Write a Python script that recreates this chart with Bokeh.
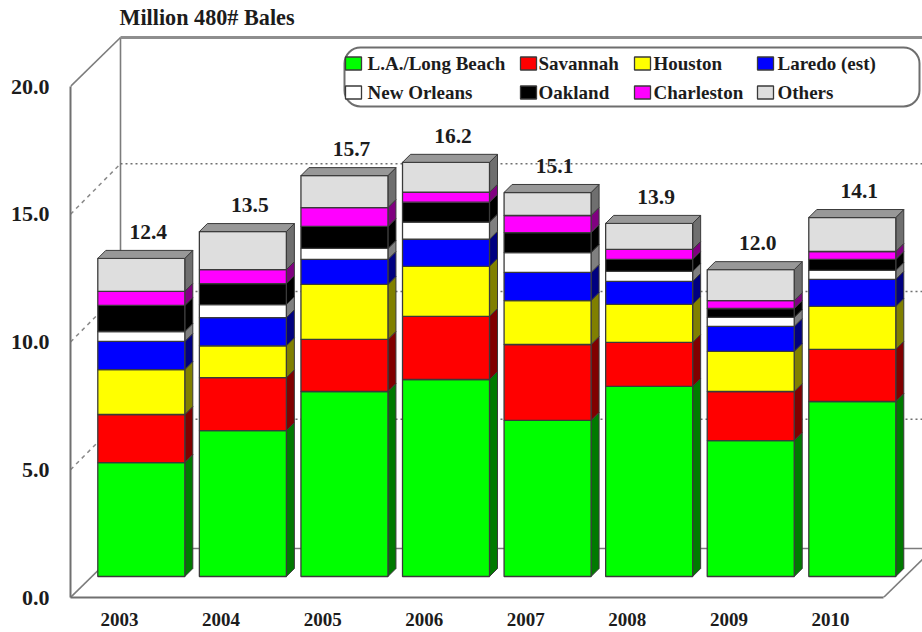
from bokeh.plotting import figure
from bokeh.models import FixedTicker, NumeralTickFormatter, Range1d
from bokeh.core.properties import value
from bokeh.embed import file_html
from bokeh.resources import INLINE

years = ["2003", "2004", "2005", "2006", "2007", "2008", "2009", "2010"]
totals = ["12.4", "13.5", "15.7", "16.2", "15.1", "13.9", "12.0", "14.1"]
la_long_beach = [4.46, 5.71, 7.24, 7.71, 6.11, 7.44, 5.32, 6.85]
savannah = [1.88, 2.07, 2.04, 2.47, 2.97, 1.72, 1.92, 2.04]
houston = [1.76, 1.25, 2.15, 1.96, 1.72, 1.49, 1.57, 1.68]
laredo = [1.10, 1.10, 0.98, 1.06, 1.10, 0.90, 0.98, 1.06]
new_orleans = [0.39, 0.51, 0.43, 0.67, 0.78, 0.39, 0.35, 0.35]
oakland = [1.02, 0.82, 0.86, 0.78, 0.78, 0.47, 0.35, 0.43]
charleston = [0.55, 0.55, 0.74, 0.39, 0.67, 0.39, 0.31, 0.31]
others = [1.29, 1.49, 1.25, 1.17, 0.90, 1.02, 1.21, 1.33]

series_names = ["L.A./Long Beach", "Savannah", "Houston", "Laredo (est)",
                "New Orleans", "Oakland", "Charleston", "Others"]
series_values = [la_long_beach, savannah, houston, laredo,
                 new_orleans, oakland, charleston, others]
front_colors = ["#00ff00", "#ff0000", "#ffff00", "#0000ff",
                "#ffffff", "#000000", "#ff00ff", "#dedede"]
side_colors = ["#007a00", "#800000", "#808000", "#000080",
               "#808080", "#000000", "#800080", "#6f6f6f"]
y_ticks = [0, 5, 10, 15, 20]

PX_X = 101.57
PX_Y = 25.55
ORIGIN_X = 119.0
ORIGIN_Y = 597.0


def X(px):
    return (px - ORIGIN_X) / PX_X


def Y(py):
    return (ORIGIN_Y - py) / PX_Y


WIDTH = 922
HEIGHT = 632
FONT = value("Liberation Serif")
TEXT = "#1c1c1c"
FRAME = "#7c7c7c"
EDGE = "#3a3a3a"

p = figure(width=WIDTH, height=HEIGHT, output_backend="svg", toolbar_location=None,
           x_range=Range1d(X(70), X(922)), y_range=Range1d(0, Y(0)),
           min_border_left=70, min_border_right=0, min_border_top=0, min_border_bottom=35,
           background_fill_color="white", border_fill_color="white")
p.outline_line_color = None
p.grid.visible = False

# axes on the front plane
ax = p.yaxis[0]
ax.ticker = FixedTicker(ticks=y_ticks)
ax.formatter = NumeralTickFormatter(format="0.0")
ax.bounds = (0, 20)
ax.major_tick_in = 0
ax.major_tick_out = 0
ax.minor_tick_in = 0
ax.minor_tick_out = 0
ax.major_label_standoff = 21
ax.axis_line_color = "#707070"
ax.axis_line_width = 2
ax.major_label_text_font = "Liberation Serif"
ax.major_label_text_font_style = "bold"
ax.major_label_text_font_size = "22px"
ax.major_label_text_color = TEXT

bx = p.xaxis[0]
bx.ticker = FixedTicker(ticks=list(range(len(years))))
bx.major_label_overrides = {i: y for i, y in enumerate(years)}
bx.bounds = (X(70), X(883))
bx.major_tick_in = 0
bx.major_tick_out = 0
bx.minor_tick_in = 0
bx.minor_tick_out = 0
bx.major_label_standoff = 15
bx.axis_line_color = "#707070"
bx.axis_line_width = 2
bx.major_label_text_font = "Liberation Serif"
bx.major_label_text_font_style = "bold"
bx.major_label_text_font_size = "19px"
bx.major_label_text_color = TEXT

# walls and floor
WALL_DX = 50 / PX_X
WALL_DY = 49 / PX_Y
GRID_DY = 50.5 / PX_Y
left = X(70)
back = left + WALL_DX
far = X(922)
axis_end = X(883)

p.line([left, back], [20, 20 + WALL_DY], line_color=FRAME, line_width=1.6)
p.line([back, back], [WALL_DY, 20 + WALL_DY], line_color=FRAME, line_width=1.6)
p.line([back, far], [20 + WALL_DY, 20 + WALL_DY], line_color="#8e8e8e", line_width=3)
p.line([left, back], [0, WALL_DY], line_color=FRAME, line_width=1.6)
p.line([back, far], [WALL_DY, WALL_DY], line_color=FRAME, line_width=1.6)
p.line([axis_end, axis_end + WALL_DX], [0, WALL_DY], line_color=FRAME, line_width=1.6)
for v in y_ticks[1:-1]:
    p.line([left, back], [v, v + GRID_DY], line_color="#8a8a8a", line_width=1.5, line_dash="4 4")
    p.line([back, far], [v + GRID_DY, v + GRID_DY], line_color="#707070", line_width=1.5, line_dash="2 3")

# 3-D stacked bars
BAR_SHIFT = 21.8 / PX_X
BAR_LIFT = 21 / PX_Y
BAR_W = 87 / PX_X
DEPTH_X = 8 / PX_X
DEPTH_Y = 8 / PX_Y

tops = []
for i in range(len(years)):
    x0 = i + BAR_SHIFT - BAR_W / 2
    x1 = x0 + BAR_W
    base = BAR_LIFT
    for vals, fc, sc in zip(series_values, front_colors, side_colors):
        top = base + vals[i]
        p.patch([x1, x1 + DEPTH_X, x1 + DEPTH_X, x1],
                [base, base + DEPTH_Y, top + DEPTH_Y, top],
                fill_color=sc, line_color=EDGE, line_width=1)
        p.quad(left=x0, right=x1, bottom=base, top=top,
               fill_color=fc, line_color=EDGE, line_width=1.3)
        base = top
    p.patch([x0, x1, x1 + DEPTH_X, x0 + DEPTH_X],
            [base, base, base + DEPTH_Y, base + DEPTH_Y],
            fill_color="#989898", line_color=EDGE, line_width=1)
    tops.append(base)

# total labels
p.text(x=[i + BAR_SHIFT + 7 / PX_X for i in range(len(years))],
       y=[t + DEPTH_Y + 18.5 / PX_Y for t in tops],
       text=totals, text_align="center", text_baseline="middle",
       text_font=FONT, text_font_style="bold", text_font_size="21.5px", text_color=TEXT)

# title
p.text(x=[X(119)], y=[Y(17)], text=["Million 480# Bales"], text_align="left",
       text_baseline="middle", text_font=FONT, text_font_style="bold",
       text_font_size="22.2px", text_color=TEXT)

# legend box
p.quad(left=X(344), right=X(919), top=Y(47), bottom=Y(106), fill_color="white",
       line_color="#6e6e6e", line_width=2, border_radius=16)
col_swatch = [345, 520, 634, 757]
col_text = [367, 538, 653, 777]
row_y = [63, 92]
for k, name in enumerate(series_names):
    c, r = k % 4, k // 4
    sw = col_swatch[c]
    cy = row_y[r]
    p.quad(left=X(sw), right=X(sw + 16), top=Y(cy - 6.5), bottom=Y(cy + 6.5),
           fill_color=front_colors[k], line_color=EDGE, line_width=1.3)
    p.text(x=[X(col_text[c])], y=[Y(cy)], text=[name], text_align="left",
           text_baseline="middle", text_font=FONT, text_font_style="bold",
           text_font_size="19px", text_color=TEXT)

open("out.html", "w").write(file_html(p, INLINE))
